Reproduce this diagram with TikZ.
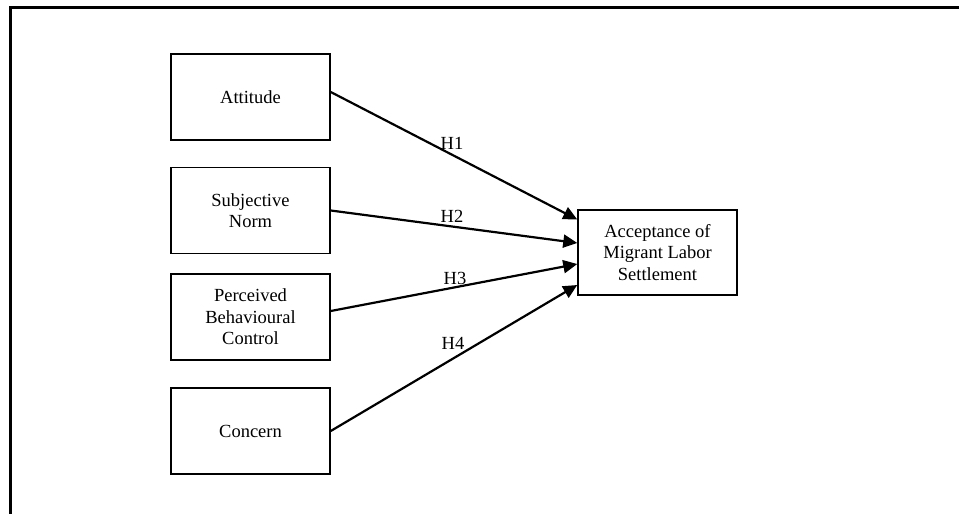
\documentclass[tikz,border=0pt]{standalone}
\usepackage{fontspec}
\setmainfont{Liberation Serif}
\usetikzlibrary{arrows.meta}
\begin{document}
\begin{tikzpicture}[x=1pt,y=-1pt,
  box/.style={draw,line width=1.5pt,minimum width=159pt,minimum height=86pt,align=center,inner sep=0pt,
    font=\fontsize{18.5}{21.5}\selectfont},
  hyp/.style={font=\fontsize{18.5}{21.5}\selectfont,inner sep=0pt},
  conn/.style={line width=2.2pt,-{Triangle[length=14pt,width=13pt]}}]
\useasboundingbox (0,0) rectangle (959,514);
\draw[line width=3pt] (10.5,514) -- (10.5,7.5) -- (959,7.5);
\node[box] (att) at (250.5,97) {Attitude};
\node[box] (sn) at (250.5,210.5) {Subjective\\Norm};
\node[box] (pbc) at (250.5,317) {Perceived\\Behavioural\\Control};
\node[box] (con) at (250.5,431) {Concern};
\node[box,minimum height=85pt] (tgt) at (657.5,252.5) {Acceptance of\\Migrant Labor\\Settlement};
\draw[conn] ([yshift=5pt]att.east) -- ([yshift=33pt]tgt.west);
\draw[conn] (sn.east) -- ([yshift=9.5pt]tgt.west);
\draw[conn] ([yshift=6pt]pbc.east) -- ([yshift=-11.5pt]tgt.west);
\draw[conn] (con.east) -- ([yshift=-32.5pt]tgt.west);
\node[hyp] (h1) at (452,143) {H1};
\node[hyp] (h2) at (452,216) {H2};
\node[hyp] (h3) at (455,278) {H3};
\node[hyp] (h4) at (453,343) {H4};
\end{tikzpicture}
\end{document}
